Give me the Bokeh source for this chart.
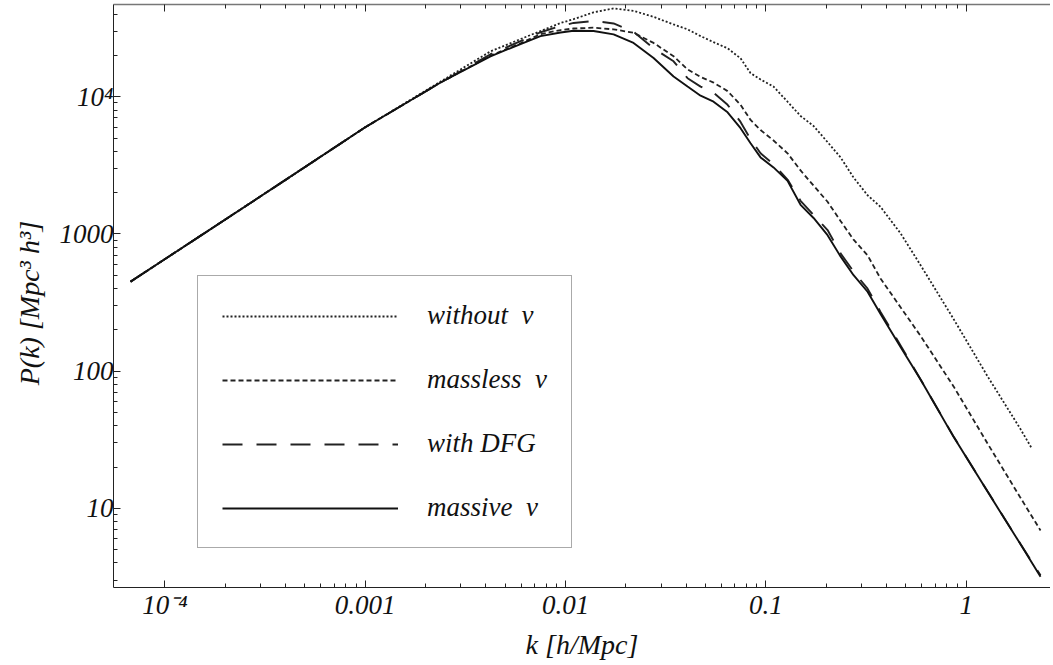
from bokeh.plotting import figure
from bokeh.models import LogAxis, FixedTicker, Legend, LegendItem, Range1d, CustomJSTickFormatter
from bokeh.embed import file_html
from bokeh.resources import INLINE

# ---- data ----
k = [6.74e-5, 1.51e-4, 3.78e-4, 1.0e-3, 2.38e-3, 4.22e-3, 5.96e-3, 7.50e-3, 9.45e-3,
     0.01097, 0.0138, 0.01737, 0.02185, 0.0275, 0.03461, 0.04065, 0.04721, 0.05481,
     0.06439, 0.07474, 0.08386, 0.09408, 0.1092, 0.1283, 0.149, 0.173, 0.2032, 0.2359,
     0.274, 0.3218, 0.3736, 0.4702, 0.5918, 0.8648, 1.278, 1.867, 2.35]

k_without = [6.74e-5, 1.51e-4, 3.78e-4, 1.0e-3, 2.38e-3, 4.22e-3, 5.96e-3, 7.50e-3, 9.45e-3,
             0.01097, 0.0138, 0.01737, 0.02185, 0.0275, 0.03461, 0.04065, 0.04721, 0.05481,
             0.06439, 0.07474, 0.08386, 0.09408, 0.1092, 0.1283, 0.149, 0.173, 0.2032, 0.2359,
             0.274, 0.3218, 0.3736, 0.4702, 0.5918, 0.8648, 1.278, 1.867, 2.12]

P_without = [449, 972, 2344, 5990, 12900, 21400, 26300, 30100, 34480,
             36720, 41210, 43960, 42270, 38190, 33620, 30970, 27660, 24980,
             22530, 19050, 14850, 13340, 11850, 9190, 7240, 6115, 4667, 3613,
             2576, 1914, 1574, 1010, 592, 240, 91.7, 37.8, 27.5]

P_massless = [449, 972, 2344, 5990, 12700, 19900, 24500, 28600, 30620,
              31410, 31840, 30970, 29240, 24660, 19710, 15810, 13920, 12680,
              10980, 8735, 6770, 5716, 4797, 3869, 2901, 2249, 1715, 1243,
              908, 698, 473, 292, 180.7, 77.4, 29.7, 11.93, 6.90]

P_dfg = [449, 972, 2344, 5990, 12690, 20400, 25400, 29500, 32730,
         34480, 35650, 34200, 29700, 22530, 18120, 13640, 11850, 10700,
         8730, 6550, 4906, 3869, 3211, 2489, 1744, 1375, 1067, 722,
         532, 399, 270, 154, 87, 33.4, 13.3, 5.5, 3.25]

P_massive = [449, 972, 2344, 5990, 12690, 19700, 24200, 27650, 29350,
             30270, 30100, 28460, 24660, 19140, 14030, 11850, 10170, 9200,
             7700, 5900, 4582, 3612, 3052, 2435, 1630, 1307, 980, 686,
             500, 379, 261, 150, 86.8, 33.2, 13.25, 5.47, 3.18]

labels = ["without  \u03bd", "massless  \u03bd", "with DFG", "massive  \u03bd"]

x_major = [1e-4, 1e-3, 1e-2, 1e-1, 1.0]
x_major_labels = ["10\u207b\u2074", "0.001", "0.01", "0.1", "1"]
y_major = [10.0, 100.0, 1000.0, 10000.0]
y_major_labels = ["10", "100", "1000", "10\u2074"]

# ---- figure ----
SERIF = "Liberation Serif"
p = figure(width=1050, height=662, x_axis_type="log", y_axis_type="log",
           x_range=Range1d(5.54e-5, 2.635), y_range=Range1d(2.65, 46990),
           output_backend="svg", toolbar_location=None,
           min_border_left=113, min_border_right=0, min_border_top=0, min_border_bottom=0)
p.outline_line_color = None
p.xgrid.visible = False
p.ygrid.visible = False
p.background_fill_color = "white"

x_minor = [m * d for d in [1e-4, 1e-3, 1e-2, 1e-1] for m in range(2, 10)]
y_minor = [m * d for d in [1.0, 10.0, 100.0, 1000.0, 10000.0] for m in range(2, 10)]
xt = FixedTicker(ticks=x_major, minor_ticks=x_minor)
xt_top = FixedTicker(ticks=x_major, minor_ticks=x_minor)
yt = FixedTicker(ticks=y_major, minor_ticks=y_minor)


def style_axis(ax):
    ax.major_tick_in = 7
    ax.major_tick_out = 0
    ax.minor_tick_in = 4
    ax.minor_tick_out = 0
    ax.axis_line_color = "#222222"
    ax.major_tick_line_color = "#222222"
    ax.minor_tick_line_color = "#222222"
    ax.major_label_text_font = SERIF
    ax.major_label_text_font_style = "italic"
    ax.major_label_text_font_size = "27px"
    ax.major_label_text_color = "#111111"
    ax.axis_label_text_font = SERIF
    ax.axis_label_text_font_style = "italic"
    ax.axis_label_text_font_size = "28px"
    ax.axis_label_text_color = "#111111"


FMT = """
for (let i = 0; i < v.length; i++) {
  if (Math.abs(Math.log10(tick) - Math.log10(v[i])) < 1e-6) return s[i];
}
return '';
"""

xa = p.xaxis[0]
xa.ticker = xt
style_axis(xa)
xa.formatter = CustomJSTickFormatter(args=dict(v=x_major, s=x_major_labels), code=FMT)
xa.major_label_standoff = 2
xa.axis_label = "k [h/Mpc]"
xa.axis_label_standoff = 6

ya = p.yaxis[0]
ya.ticker = yt
style_axis(ya)
ya.formatter = CustomJSTickFormatter(args=dict(v=y_major, s=y_major_labels), code=FMT)
ya.major_label_standoff = 0
ya.axis_label = "P(k)  [Mpc\u00b3  h\u00b3]"
ya.axis_label_standoff = 12

top = LogAxis(ticker=xt_top)
style_axis(top)
top.formatter = CustomJSTickFormatter(code="return ' ';")
top.major_label_text_font_size = "1px"
top.major_label_standoff = 0
top.axis_line_color = "#777777"
top.axis_line_width = 1.5
p.add_layout(top, "above")

r1 = p.line(k_without, P_without, line_color="#222222", line_width=1.8, line_dash="2 2")
r2 = p.line(k, P_massless, line_color="#222222", line_width=1.8, line_dash="5 3")
r3 = p.line(k, P_dfg, line_color="#222222", line_width=1.9, line_dash="20 14")
r4 = p.line(k, P_massive, line_color="#111111", line_width=1.9)

legend = Legend(items=[LegendItem(label=labels[0], renderers=[r1]),
                       LegendItem(label=labels[1], renderers=[r2]),
                       LegendItem(label=labels[2], renderers=[r3]),
                       LegendItem(label=labels[3], renderers=[r4])],
                location=(84, 39), padding=24, spacing=33, glyph_height=30,
                glyph_width=176, label_height=30, label_standoff=29,
                border_line_color="#555555", border_line_width=1.2,
                background_fill_color="white", background_fill_alpha=1.0,
                label_text_font=SERIF, label_text_font_style="italic",
                label_text_font_size="27px", label_text_color="#111111")
p.add_layout(legend)

open("out.html", "w").write(file_html(p, INLINE))
